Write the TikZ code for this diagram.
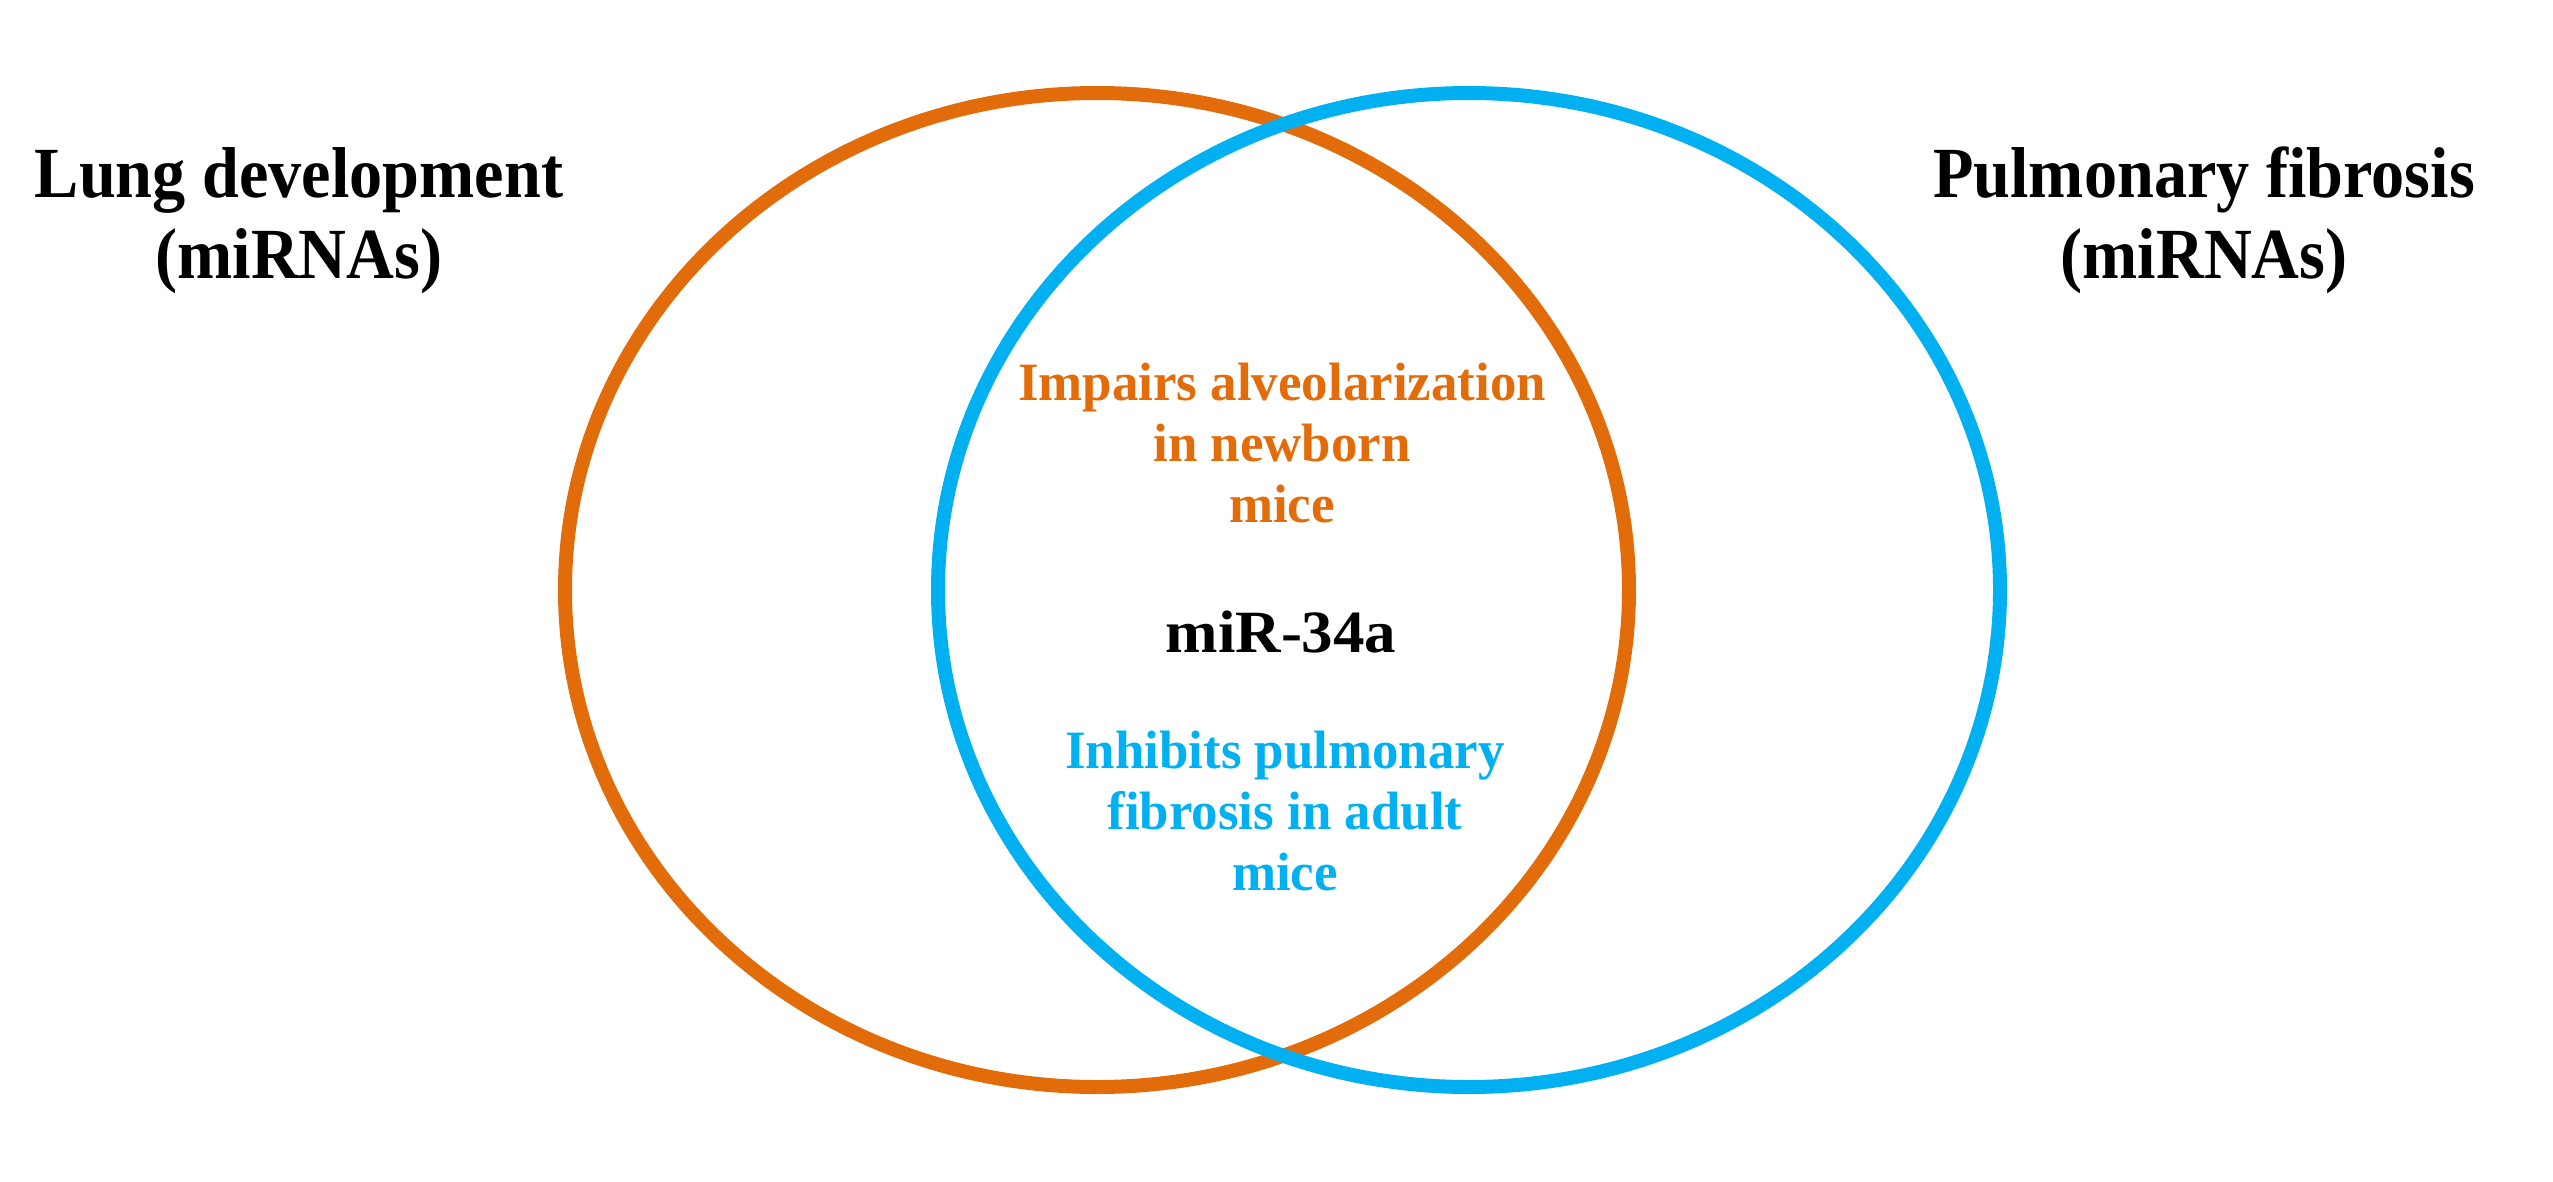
\documentclass[tikz,border=0pt]{standalone}
\usepackage{fontspec}
\setmainfont{Liberation Serif}
\newfontfamily\titlefont{Liberation Serif}[FakeStretch=0.92]
\newfontfamily\notefont{Liberation Serif}[FakeStretch=0.98]
\newfontfamily\mirfont{Liberation Serif}[FakeStretch=1.05]
\definecolor{vorange}{RGB}{227,108,10}
\definecolor{vblue}{RGB}{0,176,240}
\tikzset{
  setring/.style={line width=14pt},
  title/.style={font=\titlefont\bfseries\fontsize{72}{81}\selectfont, align=center, inner sep=0pt, anchor=base},
  note/.style={font=\notefont\bfseries\fontsize{54}{61}\selectfont, align=center, inner sep=0pt, anchor=base},
}
\begin{document}
\begin{tikzpicture}[x=1pt,y=-1pt]
\useasboundingbox (0,0) rectangle (2553,1181);
\draw[setring, vorange] (1097,590) ellipse [x radius=532, y radius=497];
\draw[setring, vblue] (1469,590) ellipse [x radius=531, y radius=497];
\node[title] (lung) at (299,278) {Lung development\\(miRNAs)};
\node[title] (fib) at (2204,278) {Pulmonary fibrosis\\(miRNAs)};
\node[note, text=vorange] (imp) at (1282,522) {Impairs alveolarization\\in newborn\\mice};
\node[note, font=\mirfont\bfseries\fontsize{60}{61}\selectfont] (mir) at (1281,652) {miR-34a};
\node[note, text=vblue] (inh) at (1285,890) {Inhibits pulmonary\\fibrosis in adult\\mice};
\end{tikzpicture}
\end{document}
